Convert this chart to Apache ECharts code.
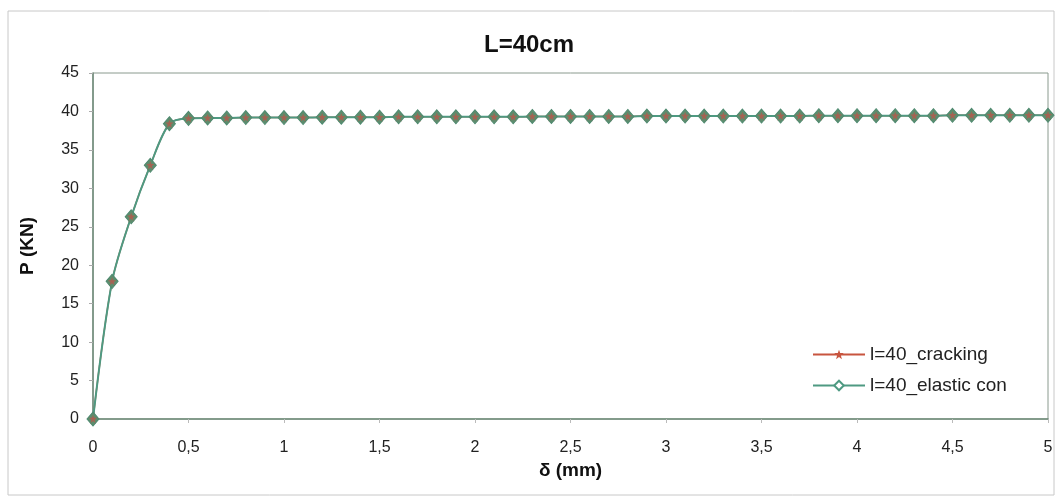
<!DOCTYPE html>
<html><head><meta charset="utf-8">
<script src="https://cdn.jsdelivr.net/npm/echarts@6/dist/echarts.min.js"></script>
<style>html,body{margin:0;padding:0;background:#fff}#c{width:1058px;height:498px}</style>
</head><body><div id="c"></div>
<script>
const deltaMM = [0,0.1,0.2,0.3,0.4,0.5,0.6,0.7,0.8,0.9,1.0,1.1,1.2,1.3,1.4,1.5,1.6,1.7,1.8,1.9,2.0,2.1,2.2,2.3,2.4,2.5,2.6,2.7,2.8,2.9,3.0,3.1,3.2,3.3,3.4,3.5,3.6,3.7,3.8,3.9,4.0,4.1,4.2,4.3,4.4,4.5,4.6,4.7,4.8,4.9,5.0];
const crackingP = [0,17.9,26.3,33.0,38.4,39.1,39.15,39.15,39.2,39.2,39.2,39.2,39.25,39.25,39.25,39.25,39.3,39.3,39.3,39.3,39.3,39.3,39.3,39.35,39.35,39.35,39.35,39.35,39.35,39.4,39.4,39.4,39.4,39.4,39.4,39.4,39.4,39.4,39.45,39.45,39.45,39.45,39.45,39.45,39.45,39.5,39.5,39.5,39.5,39.5,39.5];
const elasticP = [0,17.9,26.3,33.0,38.4,39.1,39.15,39.15,39.2,39.2,39.2,39.2,39.25,39.25,39.25,39.25,39.3,39.3,39.3,39.3,39.3,39.3,39.3,39.35,39.35,39.35,39.35,39.35,39.35,39.4,39.4,39.4,39.4,39.4,39.4,39.4,39.4,39.4,39.45,39.45,39.45,39.45,39.45,39.45,39.45,39.5,39.5,39.5,39.5,39.5,39.5];
const seriesNames = ['l=40_cracking','l=40_elastic con'];
const pair = (xs, ys) => xs.map((x,i)=>[x, ys[i]]);
const chart = echarts.init(document.getElementById('c'));
const font = 'Liberation Sans, Arial, sans-serif';
const starPath = 'path://M0,-10 L2.5,-3 L10,-3 L4,2 L6,10 L0,5 L-6,10 L-4,2 L-10,-3 L-2.5,-3 Z';
chart.setOption({
  animation:false,
  backgroundColor:'#fff',
  graphic:[{type:'rect',shape:{x:8,y:11,width:1046,height:484},style:{fill:'none',stroke:'#c8c8c8',lineWidth:1},silent:true,z:-1}],
  title:{text:'L=40cm',left:'center',top:28,textStyle:{fontFamily:font,fontSize:24,fontWeight:'bold',color:'#111'}},
  grid:{left:93,right:10,top:73,bottom:79,show:true,borderColor:'#8a9a8e',borderWidth:1,backgroundColor:'transparent'},
  legend:{orient:'vertical',left:807,top:340,itemGap:12,itemWidth:52,itemHeight:12,
    textStyle:{fontFamily:font,fontSize:19,color:'#222'},
    data:[
      {name:seriesNames[0]},
      {name:seriesNames[1],itemStyle:{color:'#fff',borderColor:'#4e9a82',borderWidth:2}}
    ]},
  xAxis:{type:'value',min:0,max:5,interval:0.5,
    name:'δ (mm)',nameLocation:'middle',nameGap:42,
    nameTextStyle:{fontFamily:font,fontSize:19,fontWeight:'bold',color:'#111'},
    axisLine:{show:true,lineStyle:{color:'#6e8a78',width:1.5}},
    axisTick:{show:true,length:4,lineStyle:{color:'#bbb'}},
    splitLine:{show:false},
    axisLabel:{fontFamily:font,fontSize:16,color:'#222',margin:21,formatter:v=>String(v).replace('.',',')}},
  yAxis:{type:'value',min:0,max:45,interval:5,
    name:'P (KN)',nameLocation:'middle',nameGap:56,nameRotate:90,
    nameTextStyle:{fontFamily:font,fontSize:19,fontWeight:'bold',color:'#111'},
    axisLine:{show:true,lineStyle:{color:'#6e8a78',width:1.5}},
    axisTick:{show:true,length:4,lineStyle:{color:'#aaa'}},
    splitLine:{show:false},
    axisLabel:{fontFamily:font,fontSize:16,color:'#222',margin:14}},
  series:[
    {name:seriesNames[0],type:'line',data:pair(deltaMM,crackingP),smooth:0.3,
     symbol:starPath,symbolSize:10,
     lineStyle:{color:'#c8553f',width:1.5},itemStyle:{color:'#c8553f',borderWidth:0}},
    {name:seriesNames[1],type:'line',data:pair(deltaMM,elasticP),smooth:0.3,
     symbol:'diamond',symbolSize:[12,14],
     lineStyle:{color:'#4e9a82',width:2},itemStyle:{color:'#5f8c6c',borderColor:'#4e8a70',borderWidth:1}},
    {name:'cracking-markers',type:'scatter',data:pair(deltaMM,crackingP),
     symbol:starPath,symbolSize:8,z:5,silent:true,
     itemStyle:{color:'#b8574c',opacity:0.8}}
  ]
});
</script></body></html>
